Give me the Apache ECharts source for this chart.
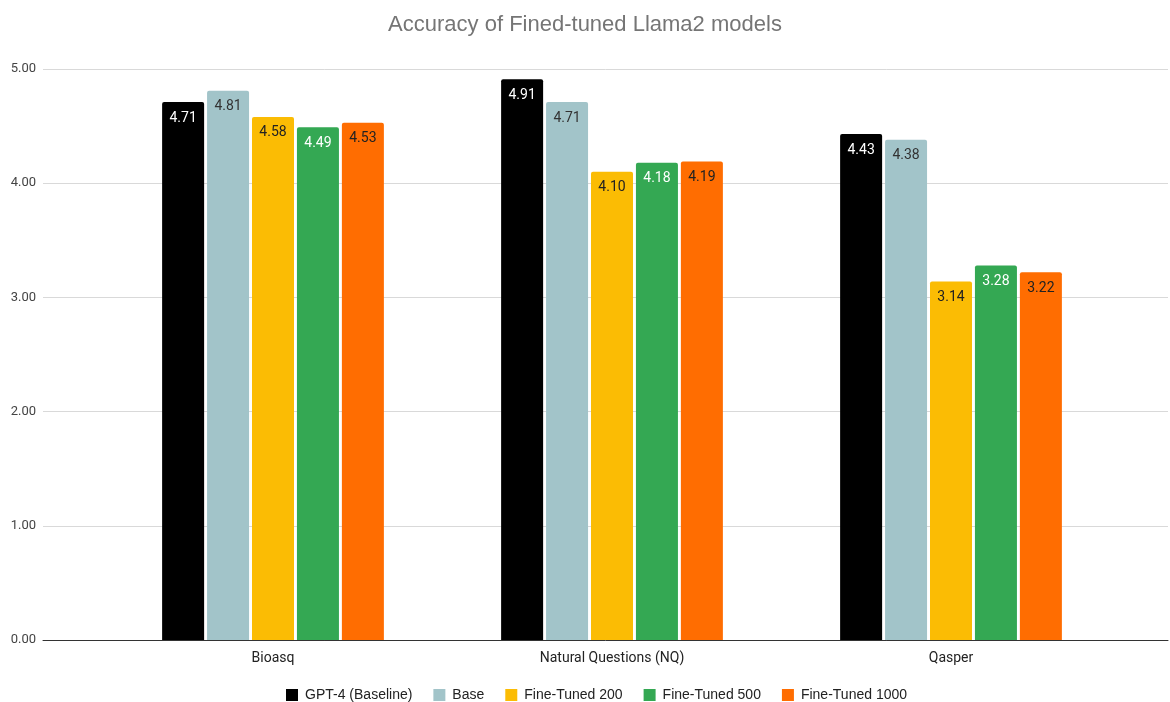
<!DOCTYPE html>
<html><head><meta charset="utf-8">
<script src="https://cdn.jsdelivr.net/npm/echarts@6/dist/echarts.min.js"></script>
<style>html,body{margin:0;padding:0;background:#fff}#c{width:1170px;height:702px}</style>
</head><body><div id="c"></div>
<script>
const categories = ['Bioasq', 'Natural Questions (NQ)', 'Qasper'];
const seriesNames = ['GPT-4 (Baseline)', 'Base', 'Fine-Tuned 200', 'Fine-Tuned 500', 'Fine-Tuned 1000'];
const gpt4 = [4.71, 4.91, 4.43];
const base = [4.81, 4.71, 4.38];
const ft200 = [4.58, 4.10, 3.14];
const ft500 = [4.49, 4.18, 3.28];
const ft1000 = [4.53, 4.19, 3.22];
const yTicks = [0, 1, 2, 3, 4, 5];

const colors = ['#000000', '#a2c4c9', '#fbbc04', '#34a853', '#ff6d01'];
const labelColors = ['#ffffff', '#333333', '#222222', '#ffffff', '#222222'];
const values = [gpt4, base, ft200, ft500, ft1000];

const chart = echarts.init(document.getElementById('c'));
const font = 'Roboto, Arial, sans-serif';
chart.setOption({
  backgroundColor: '#fff',
  animation: false,
  color: colors,
  title: {
    text: 'Accuracy of Fined-tuned Llama2 models',
    left: 'center', top: 9,
    textStyle: { color: '#757575', fontSize: 22, fontWeight: 'normal', fontFamily: 'Arial, Liberation Sans, sans-serif' }
  },
  legend: {
    top: 683, left: 281,
    itemWidth: 12, itemHeight: 12, itemGap: 21,
    icon: 'rect',
    data: seriesNames,
    textStyle: { color: '#222', fontSize: 14, padding: [0, 0, 0, 2], fontFamily: 'Arial, Liberation Sans, sans-serif' }
  },
  grid: [
    { left: 43, right: 2, top: 69, bottom: 62 },
    { left: 103.5, right: 49.5, top: 69, bottom: 62 }
  ],
  xAxis: [
    { gridIndex: 0, type: 'value', min: 0, max: 1, show: true,
      axisLine: { show: true, lineStyle: { color: '#333', width: 1 } },
      axisTick: { show: false }, axisLabel: { show: false }, splitLine: { show: false } },
    { gridIndex: 1, type: 'category', data: categories,
      axisLine: { show: false }, axisTick: { show: false },
      axisLabel: { color: '#222', fontSize: 14, margin: 11, fontFamily: font } }
  ],
  yAxis: [
    { gridIndex: 0, type: 'value', min: yTicks[0], max: yTicks[yTicks.length - 1], interval: 1,
      axisLine: { show: false }, axisTick: { show: false },
      axisLabel: { color: '#444', fontSize: 13, margin: 7, fontFamily: font, formatter: v => v.toFixed(2) },
      splitLine: { lineStyle: { color: '#d9d9d9', width: 1 } } },
    { gridIndex: 1, type: 'value', min: yTicks[0], max: yTicks[yTicks.length - 1], interval: 1, show: false,
      splitLine: { show: false } }
  ],
  series: seriesNames.map((name, i) => ({
    name, type: 'bar', xAxisIndex: 1, yAxisIndex: 1,
    data: values[i],
    barWidth: 42, barGap: '7%',
    itemStyle: { color: colors[i], borderRadius: [2, 2, 0, 0] },
    label: {
      show: true, position: 'insideTop', distance: 9,
      color: labelColors[i], fontSize: 14, fontFamily: font,
      formatter: p => p.value.toFixed(2)
    }
  }))
});
</script></body></html>
